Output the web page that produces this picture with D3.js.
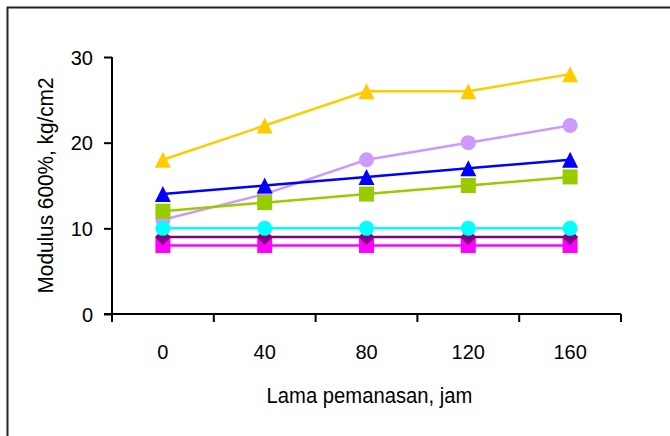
<!DOCTYPE html>
<html><head><meta charset="utf-8">
<script src="https://cdn.jsdelivr.net/npm/d3@7"></script>
<style>
html,body{margin:0;padding:0;background:#fff;}
svg{display:block;}
text{font-family:"Liberation Sans",Arial,sans-serif;fill:#000;}
</style></head>
<body><svg id="c" width="670" height="436"></svg>
<script>
const categories = ["0","40","80","120","160"];
const yTicks = [0,10,20,30];
const xTitle = "Lama pemanasan, jam";
const yTitle = "Modulus 600%, kg/cm2";
// series (drawing order: first drawn underneath)
const magentaSq = [8,8,8,8,8];
const purpleDia = [9,9,9,9,9];
const lavenderCirc = [11,14,18,20,22];
const cyanCirc = [10,10,10,10,10];
const greenSq = [12,13,14,15,16];
const blueTri = [14,15,16,17,18];
const yellowTri = [18,22,26,26,28];

const series = [
  {values: magentaSq, color:"#FF00FF", marker:"square"},
  {values: purpleDia, color:"#800080", marker:"diamond"},
  {values: lavenderCirc, color:"#CC99FF", marker:"circle"},
  {values: cyanCirc, color:"#00FFFF", marker:"circle"},
  {values: greenSq, color:"#99CC00", marker:"square"},
  {values: blueTri, color:"#0000FF", marker:"triangle"},
  {values: yellowTri, color:"#FFCC00", marker:"triangle"}
];

const svg = d3.select("#c");
// outer frame
svg.append("path").attr("d","M7.5,436 V7.5 H670").attr("fill","none").attr("stroke","#222").attr("stroke-width",2);

const x = d3.scaleBand().domain(categories).range([112,621]).padding(0);
const y = d3.scaleLinear().domain([0,30]).range([314,57]);

const g = svg.append("g");
// y axis
const ya = g.append("g").attr("transform","translate(112,0)")
  .call(d3.axisLeft(y).tickValues(yTicks).tickSize(8).tickPadding(11).tickFormat(d3.format("d")));
ya.select(".domain").attr("stroke","#000").attr("stroke-width",2).attr("d",`M0,${y(30)}V${y(0)}`);
ya.selectAll(".tick line").attr("stroke","#000").attr("stroke-width",2);
ya.selectAll(".tick text").attr("font-size",20).attr("font-family",null).attr("dy","0.36em");

// x axis: line, ticks at band boundaries
const xa = g.append("g");
const x0 = x.range()[0], x1 = x.range()[1];
xa.append("line").attr("x1",x0-8).attr("x2",x1).attr("y1",y(0)).attr("y2",y(0)).attr("stroke","#000").attr("stroke-width",2);
const bounds = categories.map(c=>x(c)).concat([x1]);
xa.selectAll("line.t").data(bounds).join("line").attr("class","t")
  .attr("x1",d=>d).attr("x2",d=>d).attr("y1",y(0)).attr("y2",y(0)+8)
  .attr("stroke","#000").attr("stroke-width",2);
xa.selectAll("text").data(categories).join("text")
  .attr("x",d=>x(d)+x.bandwidth()/2).attr("y",y(0)+45).attr("text-anchor","middle")
  .attr("font-size",20).text(d=>d);

// titles
svg.append("text").attr("transform",`translate(${(x0+x1)/2+3},403) scale(0.92,1)`).attr("text-anchor","middle").attr("font-size",22).text(xTitle);
svg.append("text").attr("transform",`translate(53,${(y(0)+y(30))/2}) rotate(-90) scale(0.945,1)`).attr("text-anchor","middle").attr("font-size",22).text(yTitle);

// symbols
const diamondType = {draw(ctx,size){const r=Math.sqrt(size)/2;ctx.moveTo(0,-r);ctx.lineTo(r,0);ctx.lineTo(0,r);ctx.lineTo(-r,0);ctx.closePath();}};
const triType = {draw(ctx,size){const s=Math.sqrt(size);const h=s;ctx.moveTo(0,-h/2);ctx.lineTo(s/2,h/2);ctx.lineTo(-s/2,h/2);ctx.closePath();}};
const symFor = {
  square: d3.symbol(d3.symbolSquare, 15*15),
  circle: d3.symbol(d3.symbolCircle, Math.PI*7.5*7.5),
  diamond: d3.symbol(diamondType, 16*16),
  triangle: d3.symbol(triType, 16*16)
};
const line = d3.line().x((d,i)=>x(categories[i])+x.bandwidth()/2).y(d=>y(d));
const plot = svg.append("g");
series.forEach(s=>{
  const sg = plot.append("g");
  sg.append("path").attr("d",line(s.values)).attr("fill","none").attr("stroke",s.color).attr("stroke-width",2.5);
  sg.selectAll("path.m").data(s.values).join("path").attr("class","m")
    .attr("transform",(d,i)=>`translate(${x(categories[i])+x.bandwidth()/2},${y(d)})`)
    .attr("d",symFor[s.marker]()).attr("fill",s.color);
});
</script></body></html>
